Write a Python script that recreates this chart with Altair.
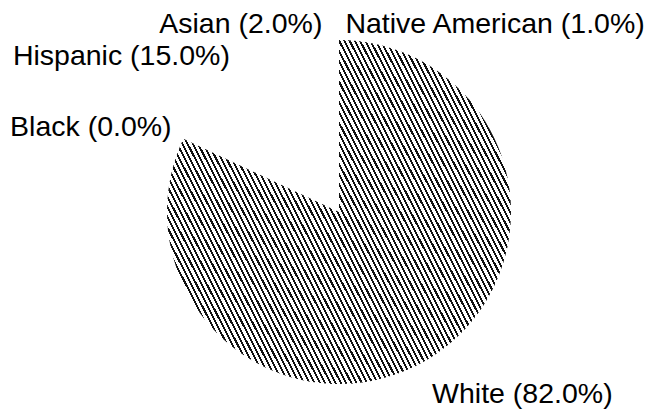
import math
import altair as alt
import pandas as pd

categories = ["White", "Black", "Hispanic", "Asian", "Native American"]
percents = [82.0, 0.0, 15.0, 2.0, 1.0]

df = pd.DataFrame({"category": categories, "pct": percents})
df["end"] = df["pct"].cumsum()
df["start"] = df["end"] - df["pct"]
df["mid"] = (df["start"] + df["end"]) / 2
df["label"] = [f"{c} ({p:.1f}%)" for c, p in zip(categories, percents)]

# hatch pattern built as a hard-stop linear gradient (style only)
ang = math.radians(63)
L = 1.45
px, py = math.sin(ang), -math.cos(ang)  # perpendicular to hatch lines
x1, y1 = 0.5 - px * L / 2, 0.5 - py * L / 2
x2, y2 = 0.5 + px * L / 2, 0.5 + py * L / 2
n_periods = 107
dark = 0.4
stops = []
for i in range(n_periods):
    a = i / n_periods
    b = (i + dark) / n_periods
    c = (i + 1) / n_periods
    stops += [
        alt.GradientStop(offset=a, color="#111111"),
        alt.GradientStop(offset=b, color="#111111"),
        alt.GradientStop(offset=b, color="#ffffff"),
        alt.GradientStop(offset=c, color="#ffffff"),
    ]
hatch = alt.LinearGradient(gradient="linear", stops=stops, x1=x1, y1=y1, x2=x2, y2=y2)

theta_scale = alt.Scale(domain=[0, 100])

arcs = alt.Chart(df).mark_arc(radius=172, fill=hatch, stroke=None).encode(
    theta=alt.Theta("start:Q", scale=theta_scale, stack=None),
    theta2="end:Q",
    opacity=alt.condition("datum.category == 'White'", alt.value(1), alt.value(0)),
)

label_styles = {
    "White": dict(radius=226, align="left", dx=-28, dy=0),
    "Black": dict(radius=185, align="right", dx=0, dy=3),
    "Hispanic": dict(radius=178, align="right", dx=0, dy=-6),
    "Asian": dict(radius=180, align="right", dx=6, dy=0),
    "Native American": dict(radius=179, align="left", dx=12, dy=0),
}

layers = [arcs]
for cat, st in label_styles.items():
    layers.append(
        alt.Chart(df)
        .transform_filter(alt.datum.category == cat)
        .mark_text(
            radius=st["radius"], align=st["align"], baseline="alphabetic",
            dx=st["dx"], dy=st["dy"], font="Liberation Sans", fontSize=28.5,
            color="#000000",
        )
        .encode(
            theta=alt.Theta("mid:Q", scale=theta_scale, stack=None),
            text="label:N",
        )
    )

chart = (
    alt.layer(*layers)
    .properties(
        width=618, height=402,
        autosize=alt.AutoSizeParams(type="none"),
        padding={"left": 30, "top": 11, "right": 0, "bottom": 0},
    )
    .configure_view(stroke=None)
    .configure(background="white")
)

chart.save("out.html", embed_options={"renderer": "svg", "actions": False})
